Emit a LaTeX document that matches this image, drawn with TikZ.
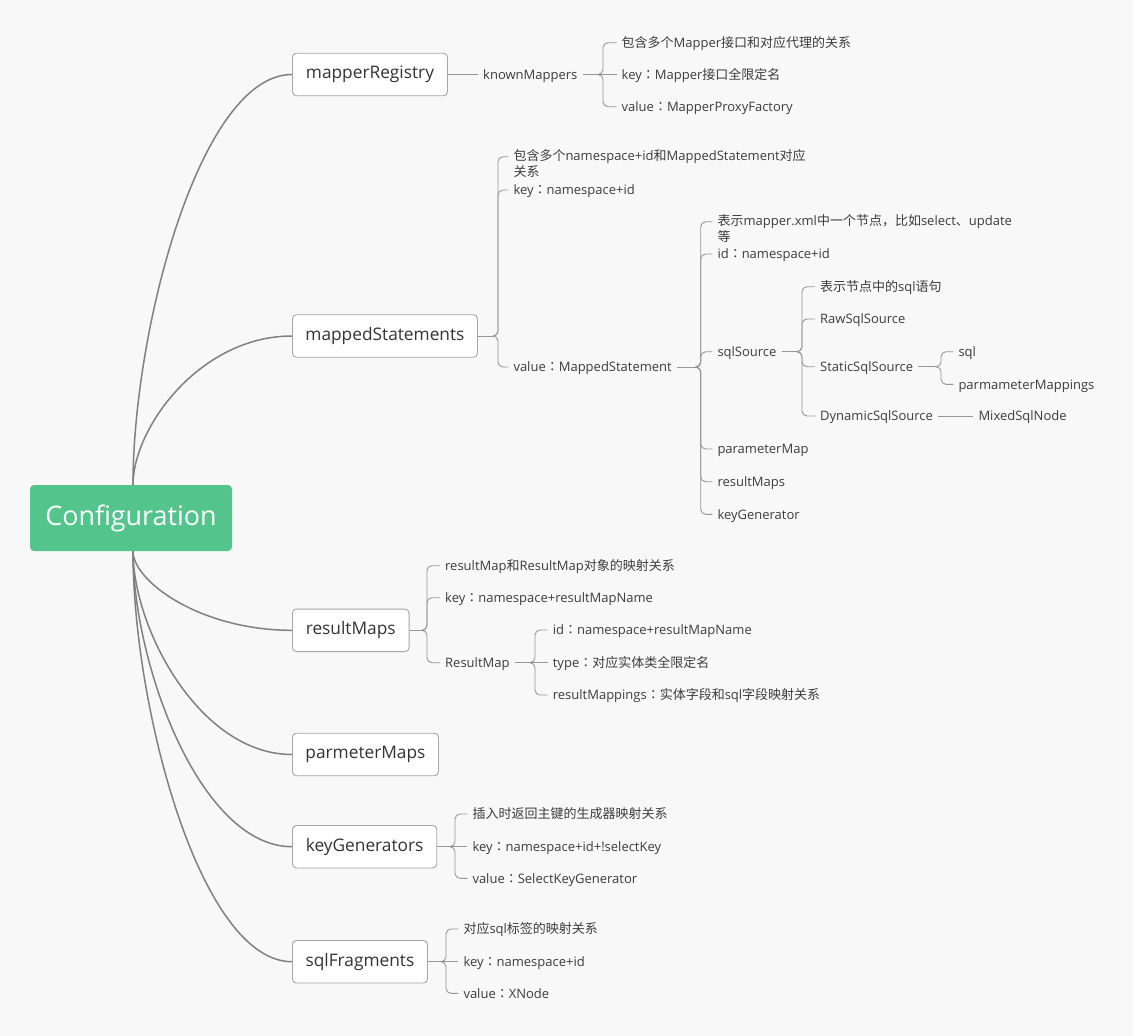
\documentclass[tikz,border=0pt]{standalone}
\usepackage{fontspec}
\setmainfont{Open Sans}
\newfontfamily\cjk{Noto Sans CJK SC}
\newfontfamily\cjkjp{Noto Sans CJK JP}
\newcommand{\zh}[1]{{\cjk #1}}
\newcommand{\zc}{{\cjkjp ：}}
\usetikzlibrary{calc}
\definecolor{bg}{RGB}{248,248,248}
\definecolor{rootgreen}{RGB}{82,196,140}
\definecolor{txt}{RGB}{51,51,51}
\definecolor{leaftxt}{RGB}{60,60,60}
\definecolor{ln}{RGB}{128,128,128}
\definecolor{bln}{RGB}{150,150,150}
\definecolor{bord}{RGB}{165,165,165}
\newcommand{\bch}[2]{\draw[br] ([xshift=-5pt]#1) -- (#1) |- (#2);}
\begin{document}
\begin{tikzpicture}[x=1pt,y=-1pt,
  rootbox/.style={fill=rootgreen, rounded corners=4pt, text=white,
    font=\fontsize{26.9}{30}\selectfont, minimum width=202pt, minimum height=66pt, inner sep=0pt},
  lvl/.style={draw=bord, fill=white, rounded corners=4pt, text=txt, line width=0.9pt,
    font=\fontsize{17.3}{20}\selectfont, minimum height=42.5pt, inner sep=0pt, anchor=west},
  leaf/.style={anchor=west, text=leaftxt, font=\fontsize{13}{16.6}\selectfont,
    inner xsep=5pt, inner ysep=0pt, text height=11.5pt, text depth=2.1pt},
  leaftwo/.style={anchor=north west, text=leaftxt, font=\fontsize{13}{16.6}\selectfont,
    inner xsep=5pt, inner ysep=0pt, align=left},
  main/.style={draw=ln, line width=1.5pt},
  br/.style={draw=bln, line width=0.9pt, rounded corners=5pt},
]
\fill[bg] (0,0) rectangle (1133,1036);
\useasboundingbox (0,0) rectangle (1133,1036);

% root
\node[rootbox] (root) at (131,518) {Configuration};

% level 1
\node[lvl, minimum width=155pt] (mr) at (292,74.5) {mapperRegistry};
\node[lvl, minimum width=185pt] (ms) at (292,336) {mappedStatements};
\node[lvl, minimum width=116.6pt] (rs) at (292,630.3) {resultMaps};
\node[lvl, minimum width=146pt] (pm) at (292,754.5) {parmeterMaps};
\node[lvl, minimum width=144.3pt] (kg) at (292,846.7) {keyGenerators};
\node[lvl, minimum width=135pt] (sf) at (292,961.7) {sqlFragments};

% main curves
\draw[main] ([xshift=2pt]root.north) .. controls +(0,-155) and +(-92,0) .. (mr.west);
\draw[main] ([xshift=2pt]root.north) .. controls +(0,-57) and +(-92,0) .. (ms.west);
\draw[main] ([xshift=2pt]root.south) .. controls +(0,30) and +(-92,0) .. (rs.west);
\draw[main] ([xshift=2pt]root.south) .. controls +(0,78) and +(-92,0) .. (pm.west);
\draw[main] ([xshift=2pt]root.south) .. controls +(0,113) and +(-92,0) .. (kg.west);
\draw[main] ([xshift=2pt]root.south) .. controls +(0,156) and +(-92,0) .. (sf.west);

% mapperRegistry branch
\node[leaf] (km) at (478,74.5) {knownMappers};
\node[leaf] (km1) at (616.5,42.7) {\zh{包含多个}Mapper\zh{接口和对应代理的关系}};
\node[leaf] (km2) at (616.5,74.5) {key\zc Mapper\zh{接口全限定名}};
\node[leaf] (km3) at (616.5,106.7) {value\zc MapperProxyFactory};
\coordinate (Jkm) at (603,74.5);
\draw[br] (mr.east) -- (km.west);
\draw[br] (km.east) -- ([xshift=-5pt]Jkm);
\bch{Jkm}{km1.west}
\draw[br] ([xshift=-5pt]Jkm) -- (km2.west);
\bch{Jkm}{km3.west}

% mappedStatements branch
\node[leaftwo] (ms1) at (508.3,149) {\zh{包含多个}namespace+id\zh{和}MappedStatement\zh{对应}\\\zh{关系}};
\coordinate (ms1c) at ([yshift=-7.7pt]ms1.north west);
\node[leaf] (ms2) at (508.3,190) {key\zc namespace+id};
\node[leaf] (ms3) at (508.3,367) {value\zc MappedStatement};
\coordinate (Jms) at (498,336);
\draw[br] (ms.east) -- ([xshift=-5pt]Jms);
\bch{Jms}{ms1c}
\bch{Jms}{ms2.west}
\bch{Jms}{ms3.west}

% MappedStatement children
\node[leaftwo] (v1) at (712.3,214) {\zh{表示}mapper.xml\zh{中一个节点，比如}select\zh{、}update\\\zh{等}};
\coordinate (v1c) at ([yshift=-7.7pt]v1.north west);
\node[leaf] (v2) at (712.3,254) {id\zc namespace+id};
\node[leaf] (ss) at (712.3,351.7) {sqlSource};
\node[leaf] (v4) at (712.3,449) {parameterMap};
\node[leaf] (v5) at (712.3,481.7) {resultMaps};
\node[leaf] (v6) at (712.3,514.3) {keyGenerator};
\coordinate (Jv) at (700.7,367);
\draw[br] (ms3.east) -- ([xshift=-5pt]Jv);
\bch{Jv}{v1c}
\bch{Jv}{v2.west}
\bch{Jv}{ss.west}
\bch{Jv}{v4.west}
\bch{Jv}{v5.west}
\bch{Jv}{v6.west}

% sqlSource children
\node[leaf] (s1) at (815,286.7) {\zh{表示节点中的}sql\zh{语句}};
\node[leaf] (s2) at (815,319) {RawSqlSource};
\node[leaf] (st) at (815,366.7) {StaticSqlSource};
\node[leaf] (ds) at (815,416) {DynamicSqlSource};
\coordinate (Jss) at (802,351.7);
\draw[br] (ss.east) -- ([xshift=-5pt]Jss);
\bch{Jss}{s1.west}
\bch{Jss}{s2.west}
\bch{Jss}{st.west}
\bch{Jss}{ds.west}

% StaticSqlSource children
\node[leaf] (t1) at (953.3,351.7) {sql};
\node[leaf] (t2) at (953.3,384.3) {parmameterMappings};
\coordinate (Jst) at (941,366.7);
\draw[br] (st.east) -- ([xshift=-5pt]Jst);
\bch{Jst}{t1.west}
\bch{Jst}{t2.west}

% DynamicSqlSource child
\node[leaf] (msn) at (973.3,416) {MixedSqlNode};
\draw[br] (ds.east) -- (msn.west);

% resultMaps branch
\node[leaf] (r1) at (440,565.7) {resultMap\zh{和}ResultMap\zh{对象的映射关系}};
\node[leaf] (r2) at (440,597.7) {key\zc namespace+resultMapName};
\node[leaf] (rm) at (440,662.7) {ResultMap};
\coordinate (Jrs) at (427,630.3);
\draw[br] (rs.east) -- ([xshift=-5pt]Jrs);
\bch{Jrs}{r1.west}
\bch{Jrs}{r2.west}
\bch{Jrs}{rm.west}

\node[leaf] (m1) at (547.7,630) {id\zc namespace+resultMapName};
\node[leaf] (m2) at (547.7,662.7) {type\zc\zh{对应实体类全限定名}};
\node[leaf] (m3) at (547.7,695) {resultMappings\zc\zh{实体字段和}sql\zh{字段映射关系}};
\coordinate (Jrm) at (535,662.7);
\draw[br] (rm.east) -- ([xshift=-5pt]Jrm);
\bch{Jrm}{m1.west}
\draw[br] ([xshift=-5pt]Jrm) -- (m2.west);
\bch{Jrm}{m3.west}

% keyGenerators branch
\node[leaf] (k1) at (467.3,814) {\zh{插入时返回主键的生成器映射关系}};
\node[leaf] (k2) at (467.3,846.7) {key\zc namespace+id+!selectKey};
\node[leaf] (k3) at (467.3,878.3) {value\zc SelectKeyGenerator};
\coordinate (Jkg) at (455,846.7);
\draw[br] (kg.east) -- ([xshift=-5pt]Jkg);
\bch{Jkg}{k1.west}
\draw[br] ([xshift=-5pt]Jkg) -- (k2.west);
\bch{Jkg}{k3.west}

% sqlFragments branch
\node[leaf] (f1) at (458.3,929) {\zh{对应}sql\zh{标签的映射关系}};
\node[leaf] (f2) at (458.3,961.7) {key\zc namespace+id};
\node[leaf] (f3) at (458.3,993.3) {value\zc XNode};
\coordinate (Jsf) at (446,961.7);
\draw[br] (sf.east) -- ([xshift=-5pt]Jsf);
\bch{Jsf}{f1.west}
\draw[br] ([xshift=-5pt]Jsf) -- (f2.west);
\bch{Jsf}{f3.west}
\end{tikzpicture}
\end{document}
